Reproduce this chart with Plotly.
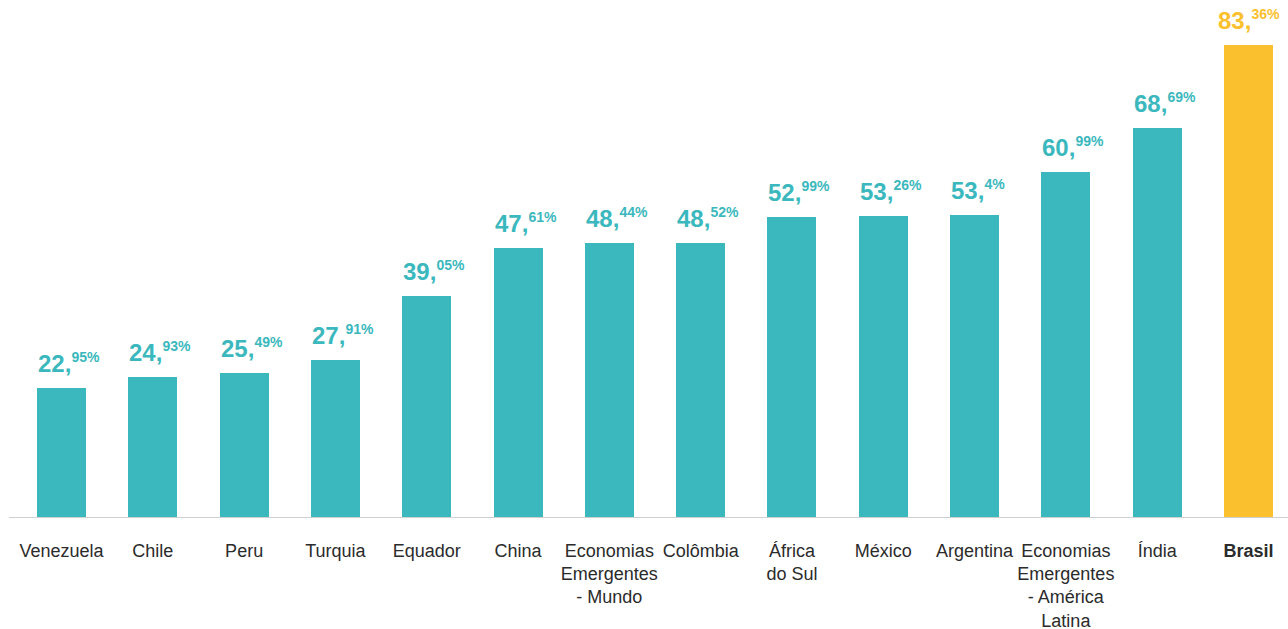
import plotly.graph_objects as go

categories = ["Venezuela", "Chile", "Peru", "Turquia", "Equador", "China",
              "Economias<br>Emergentes<br>- Mundo", "Colômbia", "África<br>do Sul",
              "México", "Argentina", "Economias<br>Emergentes<br>- América<br>Latina",
              "Índia", "<b>Brasil</b>"]
values = [22.95, 24.93, 25.49, 27.91, 39.05, 47.61, 48.44, 48.52, 52.99,
          53.26, 53.4, 60.99, 68.69, 83.36]

TEAL = "#3BB8BE"
YELLOW = "#FBC02D"
colors = [TEAL] * (len(values) - 1) + [YELLOW]
FONT = "Liberation Sans, Arial, Helvetica, sans-serif"

x = list(range(len(categories)))
BAR_W = 0.537

fig = go.Figure()
fig.add_trace(go.Bar(x=x, y=values, marker_color=colors, width=BAR_W,
                     marker_line_width=0, hoverinfo="skip"))

for i, v in enumerate(values):
    s = f"{v:.2f}".rstrip("0")
    ip, dp = s.split(".")
    txt = (f"<b>{ip},</b><sup><span style='font-size:14px'><b>{dp}%</b></span></sup>")
    fig.add_annotation(x=i - BAR_W / 2, y=v, xref="x", yref="y", text=txt,
                       showarrow=False, xanchor="left", yanchor="bottom",
                       yshift=9, xshift=-1 if i < len(values) - 1 else -8,
                       font=dict(family=FONT, size=24, color=colors[i]))

fig.add_shape(type="line", xref="paper", yref="y", x0=9 / 1288, x1=1, y0=0, y1=0,
              line=dict(color="#cfcfcf", width=2), layer="above")

fig.update_layout(
    width=1288, height=629,
    margin=dict(l=0, r=0, t=0, b=111),
    plot_bgcolor="white", paper_bgcolor="white",
    showlegend=False,
    bargap=0,
    xaxis=dict(range=[-0.674, 13.433], tickvals=x, ticktext=categories,
               showgrid=False, zeroline=False, showline=False, automargin=False,
               ticks="outside", ticklen=16, tickcolor="rgba(0,0,0,0)",
               tickfont=dict(family=FONT, size=18, color="#2b2b2b"),
               tickangle=0, fixedrange=True),
    yaxis=dict(range=[0, 91.29], visible=False, fixedrange=True, automargin=False),
)

fig.write_html("out.html", config={"displayModeBar": False},
               post_script="document.body.style.margin='0';document.body.style.overflow='hidden';")
